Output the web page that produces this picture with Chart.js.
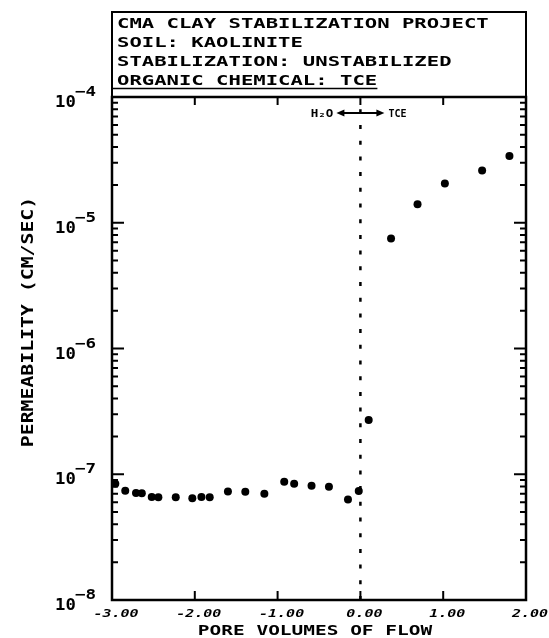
<!DOCTYPE html>
<html>
<head>
<meta charset="utf-8">
<script src="https://cdn.jsdelivr.net/npm/chart.js@4.4.1/dist/chart.umd.min.js"></script>
<style>
    html, body { margin: 0; padding: 0; background: #fff; }
    #wrap { width: 549px; height: 638px; }
</style>
</head>
<body>
<div id="wrap"><canvas id="chart" width="549" height="638"></canvas></div>
<script>
// 標題方框文字
const headerLines = [
    'CMA CLAY STABILIZATION PROJECT',
    'SOIL: KAOLINITE',
    'STABILIZATION: UNSTABILIZED',
    'ORGANIC CHEMICAL: TCE'
];
const xTitle = 'PORE VOLUMES OF FLOW';
const yTitle = 'PERMEABILITY (CM/SEC)';
const leftLabel = 'H₂O';
const rightLabel = 'TCE';

// 座標軸刻度
const xTicks = [-3, -2, -1, 0, 1, 2];
const yDecades = [-8, -7, -6, -5, -4];

// 數據點 (孔隙體積, 滲透係數)
const poreVolumes = [-2.96, -2.84, -2.71, -2.64, -2.52, -2.44, -2.23, -2.03, -1.92, -1.82,
    -1.60, -1.39, -1.16, -0.92, -0.80, -0.59, -0.38, -0.15, -0.02, 0.10,
    0.37, 0.69, 1.02, 1.47, 1.80];
const permeability = [8.4e-8, 7.4e-8, 7.1e-8, 7.05e-8, 6.6e-8, 6.55e-8, 6.55e-8, 6.45e-8, 6.6e-8, 6.55e-8,
    7.3e-8, 7.25e-8, 7.0e-8, 8.7e-8, 8.4e-8, 8.1e-8, 7.95e-8, 6.3e-8, 7.35e-8, 2.7e-7,
    7.5e-6, 1.4e-5, 2.05e-5, 2.6e-5, 3.4e-5];

// 分界虛線 (水 -> TCE)
const dividerX = [0, 0];
const dividerY = [1e-8, 1e-4];

// 拉伸文字 (模仿繪圖機字體)
function stretchText(ctx, text, x, y, size, sx, align, style, rotate) {
    ctx.save();
    ctx.font = (style || 'bold') + ' ' + size + 'px "DejaVu Sans Mono"';
    ctx.textAlign = align || 'left';
    ctx.textBaseline = 'alphabetic';
    ctx.fillStyle = '#000';
    ctx.translate(x, y);
    if (rotate) ctx.rotate(rotate);
    ctx.scale(sx, 1);
    ctx.fillText(text, 0, 0);
    ctx.restore();
}

const decorPlugin = {
    id: 'decor',
    afterDraw(chart) {
        const ctx = chart.ctx;
        const area = chart.chartArea;
        const xs = chart.scales.x;
        const ys = chart.scales.y;
        ctx.save();
        ctx.strokeStyle = '#000';
        ctx.fillStyle = '#000';

        // 外框
        ctx.lineWidth = 2.5;
        ctx.strokeRect(area.left, area.top, area.right - area.left, area.bottom - area.top);

        // 標題方框
        ctx.lineWidth = 2;
        ctx.strokeRect(area.left, 12, area.right - area.left, area.top - 12);
        const baselines = [28, 47, 66, 85];
        headerLines.forEach((line, i) => {
            stretchText(ctx, line, 117, baselines[i], 14, 1.47);
        });
        ctx.lineWidth = 1.5;
        ctx.beginPath();
        ctx.moveTo(area.left, 88.5);
        ctx.lineTo(117 + headerLines[3].length * 12.4, 88.5);
        ctx.stroke();

        // X 軸刻度
        ctx.lineWidth = 2;
        xTicks.forEach(v => {
            const px = xs.getPixelForValue(v);
            ctx.beginPath();
            ctx.moveTo(px, area.bottom);
            ctx.lineTo(px, area.bottom - 9);
            ctx.moveTo(px, area.top);
            ctx.lineTo(px, area.top + 8);
            ctx.stroke();
            stretchText(ctx, v.toFixed(2), px + 4, 617, 10, 1.5, 'center', 'bold italic');
        });

        // Y 軸刻度 (主刻度 + 次刻度)
        yDecades.forEach(d => {
            for (let m = 1; m <= 9; m++) {
                if (d === -4 && m > 1) break;
                const py = ys.getPixelForValue(m * Math.pow(10, d));
                const len = m === 1 ? 12 : 6;
                ctx.beginPath();
                ctx.moveTo(area.left, py);
                ctx.lineTo(area.left + len, py);
                ctx.moveTo(area.right, py);
                ctx.lineTo(area.right - len, py);
                ctx.stroke();
            }
            const py = ys.getPixelForValue(Math.pow(10, d));
            stretchText(ctx, '10', 55, py + 10, 15, 1.15);
            stretchText(ctx, '−' + Math.abs(d), 75, py - 1, 14, 1.25);
        });

        // 軸標題
        stretchText(ctx, xTitle, (area.left + area.right) / 2 - 4, 635, 14, 1.39, 'center');
        stretchText(ctx, yTitle, 33, 322, 15, 1.32, 'center', 'bold', -Math.PI / 2);

        // H2O <-> TCE 箭頭
        const x0 = xs.getPixelForValue(0);
        const ay = 113;
        const a1 = x0 - 24, a2 = x0 + 24;
        ctx.lineWidth = 1.8;
        ctx.beginPath();
        ctx.moveTo(a1 + 4, ay);
        ctx.lineTo(a2 - 4, ay);
        ctx.stroke();
        ctx.beginPath();
        ctx.moveTo(a1, ay);
        ctx.lineTo(a1 + 8, ay - 3.5);
        ctx.lineTo(a1 + 8, ay + 3.5);
        ctx.closePath();
        ctx.moveTo(a2, ay);
        ctx.lineTo(a2 - 8, ay - 3.5);
        ctx.lineTo(a2 - 8, ay + 3.5);
        ctx.closePath();
        ctx.fill();
        stretchText(ctx, leftLabel, a1 - 3, ay + 4, 10, 1.25, 'right');
        stretchText(ctx, rightLabel, a2 + 4, ay + 4, 10, 1.0, 'left');

        ctx.restore();
    }
};

const ctx = document.getElementById('chart').getContext('2d');
new Chart(ctx, {
    type: 'scatter',
    data: {
        datasets: [{
            label: 'permeability',
            data: poreVolumes.map((x, i) => ({ x: x, y: permeability[i] })),
            pointRadius: 4,
            pointBackgroundColor: '#000',
            pointBorderWidth: 0,
            showLine: false
        }, {
            label: 'divider',
            data: dividerX.map((x, i) => ({ x: x, y: dividerY[i] })),
            showLine: true,
            pointRadius: 0,
            borderColor: '#000',
            borderWidth: 2.5,
            borderDash: [4, 11.7]
        }]
    },
    options: {
        responsive: false,
        animation: false,
        devicePixelRatio: 1,
        layout: {
            padding: { top: 97, right: 23, left: 0, bottom: 0 }
        },
        plugins: {
            legend: { display: false },
            tooltip: { enabled: false }
        },
        scales: {
            x: {
                type: 'linear',
                min: -3,
                max: 2,
                ticks: { display: false },
                grid: { display: false },
                border: { display: false },
                afterFit: s => { s.height = 38; }
            },
            y: {
                type: 'logarithmic',
                min: 1e-8,
                max: 1e-4,
                ticks: { display: false },
                grid: { display: false },
                border: { display: false },
                afterFit: s => { s.width = 112; }
            }
        }
    },
    plugins: [decorPlugin]
});
</script>
</body>
</html>
